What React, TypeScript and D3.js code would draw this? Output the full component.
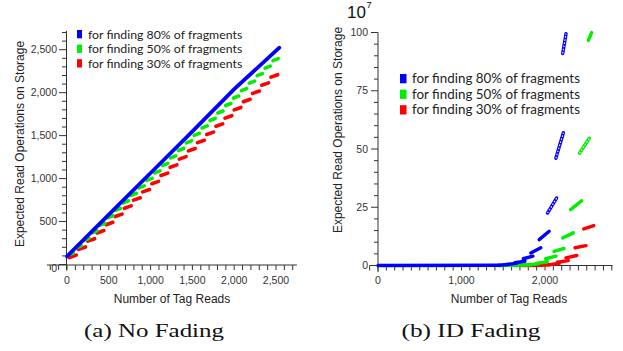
import React from 'react';
import * as d3 from 'd3';

const legendLabels = ['for finding 80% of fragments', 'for finding 50% of fragments', 'for finding 30% of fragments'];
const seriesColors = ['#0000ff', '#00ee00', '#ff0000'];

// (a) No Fading
const nfXTicks = [0, 500, 1000, 1500, 2000, 2500];
const nfXTickLabels = ['0', '500', '1,000', '1,500', '2,000', '2,500'];
const nfYTicks = [0, 500, 1000, 1500, 2000, 2500];
const nfYTickLabels = ['0', '500', '1,000', '1,500', '2,000', '2,500'];

const nfBlueX = [0, 500, 1000, 1500, 2000, 2540];
const nfBlueY = [95, 580, 1065, 1550, 2040, 2523];

const nfGreenX = [45, 139, 233, 328, 422, 516, 610, 704, 799, 893, 987, 1081, 1175, 1270, 1364, 1458, 1552, 1646, 1741, 1835, 1929, 2023, 2117, 2212, 2306, 2400, 2495];
const nfGreenY = [120, 207, 294, 381, 468, 556, 643, 730, 817, 904, 991, 1078, 1165, 1252, 1339, 1427, 1514, 1601, 1688, 1775, 1862, 1949, 2036, 2123, 2210, 2297, 2385];

const nfRedX = [70, 180, 290, 400, 508, 618, 727, 836, 946, 1055, 1165, 1274, 1384, 1493, 1602, 1712, 1822, 1931, 2040, 2150, 2260, 2370, 2480];
const nfRedY = [95, 190, 286, 381, 477, 572, 668, 763, 859, 954, 1050, 1145, 1241, 1336, 1432, 1527, 1623, 1718, 1814, 1909, 2005, 2100, 2195];

// (b) ID Fading (units of 10^7)
const idXTicks = [0, 1000, 2000];
const idXTickLabels = ['0', '1,000', '2,000'];
const idYTicks = [0, 25, 50, 75, 100];
const idYTickLabels = ['0', '25', '50', '75', '100'];

const idBlueX0 = [0, 1450, 1545, 1640, 1740, 1830, 1930, 2030, 2130, 2212];
const idBlueX1 = [1450, 1555, 1660, 1760, 1855, 1950, 2050, 2140, 2220, 2252];
const idBlueY0 = [0, 0.1, 0.5, 1.2, 2.9, 5.4, 11.1, 22.5, 46, 91];
const idBlueY1 = [0.1, 0.4, 0.9, 1.8, 4.0, 7.6, 14.7, 29, 57, 99.5];

const idGreenX0 = [1450, 1700, 1800, 1900, 2008, 2108, 2212, 2307, 2412, 2519];
const idGreenX1 = [1700, 1810, 1920, 2028, 2132, 2228, 2339, 2439, 2531, 2559];
const idGreenY0 = [0, 0.1, 0.3, 0.9, 2.9, 6.1, 11.8, 24, 48.2, 96.6];
const idGreenY1 = [0.1, 0.3, 0.7, 1.6, 4.0, 7.3, 14, 27.8, 54.6, 100];

const idRedX0 = [1700, 1950, 2048, 2148, 2251, 2359, 2464];
const idRedX1 = [1960, 2065, 2171, 2279, 2380, 2491, 2584];
const idRedY0 = [0, 0.1, 0.4, 1.4, 3.3, 7.6, 15.7];
const idRedY1 = [0.1, 0.3, 0.9, 2.1, 4.3, 8.5, 17.1];

const axisColor = '#333';
const tickFont = 'Liberation Sans, Arial, sans-serif';
const legendFont = 'Lato, Liberation Sans, sans-serif';

function NoFading() {
  const x = d3.scaleLinear().domain([0, 2500]).range([67, 276]);
  const y = d3.scaleLinear().domain([0, 2500]).range([264.5, 49.7]);
  const minorY = d3.range(0, 2701, 100);
  const minorX = d3.range(-200, 2701, 100);
  const line = d3.line<number>().x((d, i) => x(nfBlueX[i])).y((d) => y(d));
  const dash = (cx: number, cy: number, w: number, r: number) => `M${x(cx) - w},${y(cy) + r}L${x(cx) + w},${y(cy) - r}`;
  return (
    <g>
      <line x1={66.5} x2={66.5} y1={y(2720)} y2={y(-70)} stroke={axisColor} strokeWidth={1} />
      <line x1={x(-240)} x2={x(2750)} y1={265} y2={265} stroke={axisColor} strokeWidth={1} />
      {minorY.map((v) => (
        <line key={'ym' + v} x1={v % 500 === 0 ? 59 : 62} x2={66.5} y1={y(v)} y2={y(v)} stroke={axisColor} strokeWidth={1} />
      ))}
      {minorX.map((v) => (
        <line key={'xm' + v} x1={x(v)} x2={x(v)} y1={265} y2={270} stroke={axisColor} strokeWidth={1} />
      ))}
      {nfYTicks.map((v, i) => (
        <text key={'yl' + v} x={57} y={v === 0 ? 268 : y(v)} dy="0.35em" textAnchor="end" fontSize={10.5} fontFamily={tickFont} fill="#333">{nfYTickLabels[i]}</text>
      ))}
      {nfXTicks.map((v, i) => (
        <text key={'xl' + v} x={x(v)} y={283.5} textAnchor="middle" fontSize={10.5} fontFamily={tickFont} fill="#333">{nfXTickLabels[i]}</text>
      ))}
      <text x={172} y={302.5} textAnchor="middle" fontSize={12} fontFamily={tickFont} fill="#222">Number of Tag Reads</text>
      <text transform="translate(19.5,144) rotate(-90)" textAnchor="middle" dominantBaseline="central" fontSize={12} fontFamily={tickFont} fill="#222">Expected Read Operations on Storage</text>
      {nfRedX.map((v, i) => (
        <path key={'r' + i} d={dash(v, nfRedY[i], 3.4, 1.2)} stroke={seriesColors[2]} strokeWidth={3.6} strokeLinecap="round" fill="none" />
      ))}
      {nfGreenX.map((v, i) => (
        <path key={'g' + i} d={dash(v, nfGreenY[i], 2.6, 1.0)} stroke={seriesColors[1]} strokeWidth={3.6} strokeLinecap="round" fill="none" />
      ))}
      <path d={line(nfBlueY) || ''} stroke={seriesColors[0]} strokeWidth={3.8} fill="none" strokeLinecap="round" />
      {legendLabels.map((t, i) => (
        <g key={'lg' + i}>
          <rect x={77} y={30 + i * 14.6} width={5} height={8.3} fill={seriesColors[i]} />
          <text x={88} y={38.5 + i * 14.6} fontSize={12.3} fontFamily={legendFont} fill="#222">{t}</text>
        </g>
      ))}
    </g>
  );
}

function IdFading() {
  const x = d3.scaleLinear().domain([0, 2000]).range([378, 545]);
  const y = d3.scaleLinear().domain([0, 100]).range([265.5, 32.5]);
  const minorY = d3.range(0, 101, 5);
  const minorX = d3.range(-100, 2801, 100);
  const segs = (x0: number[], x1: number[], y0: number[], y1: number[], color: string, key: string) =>
    x0.map((v, i) => {
      const px0 = x(v), px1 = x(x1[i]), py0 = y(y0[i]), py1 = y(y1[i]);
      const steep = py0 - py1 > 12;
      return (
        <g key={key + i}>
          <line x1={px0} x2={px1} y1={py0} y2={py1} stroke={color} strokeWidth={3.4} strokeLinecap="round" />
          {steep && <line x1={px0} x2={px1} y1={py0} y2={py1} stroke="#fff" strokeWidth={1.1} strokeDasharray="1.6,1.6" />}
        </g>
      );
    });
  return (
    <g>
      <line x1={378} x2={378} y1={32.5} y2={272} stroke={axisColor} strokeWidth={1} />
      <line x1={x(-100)} x2={x(2810)} y1={265.5} y2={265.5} stroke={axisColor} strokeWidth={1} />
      {minorY.map((v) => (
        <line key={'ym' + v} x1={v % 25 === 0 ? 371 : 374} x2={378} y1={y(v)} y2={y(v)} stroke={axisColor} strokeWidth={1} />
      ))}
      {minorX.map((v) => (
        <line key={'xm' + v} x1={x(v)} x2={x(v)} y1={265.5} y2={270.5} stroke={axisColor} strokeWidth={1} />
      ))}
      {idYTicks.map((v, i) => (
        <text key={'yl' + v} x={368} y={y(v)} dy="0.35em" textAnchor="end" fontSize={10.5} fontFamily={tickFont} fill="#333">{idYTickLabels[i]}</text>
      ))}
      {idXTicks.map((v, i) => (
        <text key={'xl' + v} x={x(v)} y={284} textAnchor="middle" fontSize={10.5} fontFamily={tickFont} fill="#333">{idXTickLabels[i]}</text>
      ))}
      <text x={347} y={18} fontSize={17} fontFamily={tickFont} fill="#111">10</text>
      <text x={366.5} y={8} fontSize={9.5} fontFamily={tickFont} fill="#111">7</text>
      <text x={509} y={303} textAnchor="middle" fontSize={12} fontFamily={tickFont} fill="#222">Number of Tag Reads</text>
      <text transform="translate(338,130) rotate(-90)" textAnchor="middle" dominantBaseline="central" fontSize={12} fontFamily={tickFont} fill="#222">Expected Read Operations on Storage</text>
      {segs(idRedX0, idRedX1, idRedY0, idRedY1, seriesColors[2], 'r')}
      {segs(idGreenX0, idGreenX1, idGreenY0, idGreenY1, seriesColors[1], 'g')}
      {segs(idBlueX0, idBlueX1, idBlueY0, idBlueY1, seriesColors[0], 'b')}
      {legendLabels.map((t, i) => (
        <g key={'lg' + i}>
          <rect x={400} y={74 + i * 15.6} width={6.5} height={9.3} fill={seriesColors[i]} />
          <text x={412} y={83 + i * 15.6} fontSize={13.4} fontFamily={legendFont} fill="#222">{t}</text>
        </g>
      ))}
    </g>
  );
}

export default function App() {
  return (
    <svg width={623} height={351} style={{ position: 'absolute', left: 0, top: 0, background: '#fff' }}>
      <rect x={0} y={0} width={623} height={351} fill="#fff" />
      <NoFading />
      <IdFading />
      <text x={154} y={337} textAnchor="middle" fontSize={19} fontFamily="Liberation Serif, serif" fill="#111" textLength={140} lengthAdjust="spacingAndGlyphs">(a) No Fading</text>
      <text x={471} y={337} textAnchor="middle" fontSize={19} fontFamily="Liberation Serif, serif" fill="#111" textLength={139} lengthAdjust="spacingAndGlyphs">(b) ID Fading</text>
    </svg>
  );
}
